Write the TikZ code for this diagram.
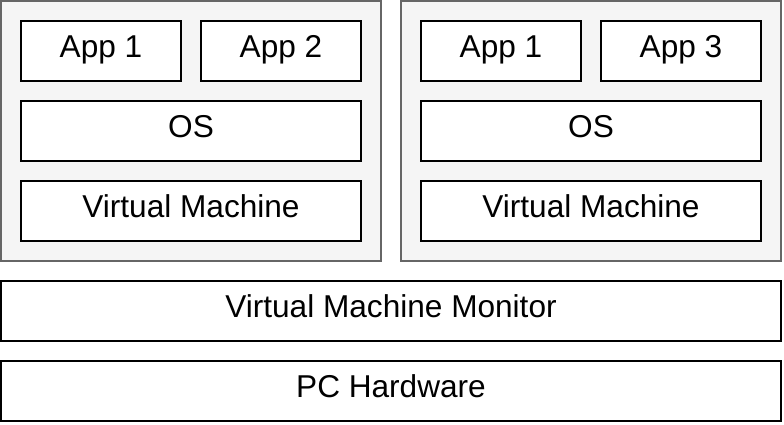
\documentclass[tikz,border=0pt]{standalone}
\usepackage{fontspec}
\setmainfont{Liberation Sans}
\begin{document}
\begin{tikzpicture}[x=1pt,y=-1pt,
  container/.style={draw=black!60,fill=black!4,line width=2pt},
  layer/.style={draw=black,fill=white,line width=2pt,font=\fontsize{31.6}{36}\selectfont,inner sep=0pt,text height=22pt,text depth=10pt}]
\useasboundingbox (0,0) rectangle (784,424);
% containers
\draw[container] (1,1) rectangle (381,261);
\draw[container] (401,1) rectangle (781,261);
% left VM
\node[layer,minimum width=160pt,minimum height=60pt] (a1) at (101,51) {App 1};
\node[layer,minimum width=160pt,minimum height=60pt] (a2) at (281,51) {App 2};
\node[layer,minimum width=340pt,minimum height=60pt] (os1) at (191,131) {OS};
\node[layer,minimum width=340pt,minimum height=60pt] (vm1) at (191,211) {Virtual Machine};
% right VM
\node[layer,minimum width=160pt,minimum height=60pt] (b1) at (501,51) {App 1};
\node[layer,minimum width=160pt,minimum height=60pt] (b3) at (681,51) {App 3};
\node[layer,minimum width=340pt,minimum height=60pt] (os2) at (591,131) {OS};
\node[layer,minimum width=340pt,minimum height=60pt] (vm2) at (591,211) {Virtual Machine};
% bottom layers
\node[layer,minimum width=780pt,minimum height=60pt] (vmm) at (391,311) {Virtual Machine Monitor};
\node[layer,minimum width=780pt,minimum height=60pt] (hw) at (391,391) {PC Hardware};
\end{tikzpicture}
\end{document}
